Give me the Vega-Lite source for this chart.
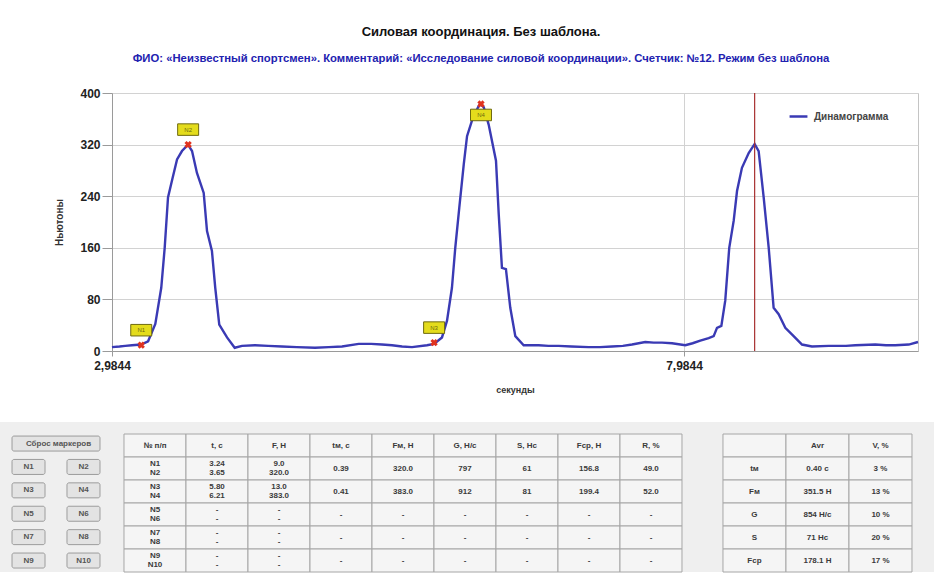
{
  "$schema": "https://vega.github.io/schema/vega-lite/v6.json",
  "background": "white",
  "padding": {"left": 0, "top": 25, "right": 0, "bottom": 0},
  "spacing": 27,
  "config": {
    "font": "Liberation Sans",
    "view": {"stroke": null}
  },
  "datasets": {
    "curve": [
      {"t": 2.984, "F": 6}, {"t": 3.05, "F": 7}, {"t": 3.10, "F": 8}, {"t": 3.159, "F": 9},
      {"t": 3.24, "F": 10}, {"t": 3.30, "F": 15}, {"t": 3.363, "F": 42}, {"t": 3.415, "F": 98},
      {"t": 3.445, "F": 160}, {"t": 3.474, "F": 238}, {"t": 3.515, "F": 269}, {"t": 3.553, "F": 297},
      {"t": 3.596, "F": 310}, {"t": 3.649, "F": 320}, {"t": 3.684, "F": 310}, {"t": 3.727, "F": 276},
      {"t": 3.786, "F": 245}, {"t": 3.815, "F": 186}, {"t": 3.858, "F": 155}, {"t": 3.887, "F": 98},
      {"t": 3.922, "F": 41}, {"t": 3.990, "F": 21}, {"t": 4.057, "F": 5}, {"t": 4.121, "F": 8},
      {"t": 4.234, "F": 9}, {"t": 4.35, "F": 8}, {"t": 4.470, "F": 7}, {"t": 4.60, "F": 6},
      {"t": 4.759, "F": 5}, {"t": 4.88, "F": 6}, {"t": 4.995, "F": 7}, {"t": 5.141, "F": 11},
      {"t": 5.25, "F": 11}, {"t": 5.344, "F": 10}, {"t": 5.432, "F": 9}, {"t": 5.52, "F": 7},
      {"t": 5.607, "F": 6}, {"t": 5.738, "F": 9}, {"t": 5.80, "F": 11}, {"t": 5.869, "F": 21},
      {"t": 5.913, "F": 47}, {"t": 5.956, "F": 98}, {"t": 5.985, "F": 160}, {"t": 6.020, "F": 222},
      {"t": 6.059, "F": 289}, {"t": 6.088, "F": 333}, {"t": 6.131, "F": 357}, {"t": 6.184, "F": 378},
      {"t": 6.201, "F": 383}, {"t": 6.234, "F": 378}, {"t": 6.277, "F": 351}, {"t": 6.341, "F": 295},
      {"t": 6.365, "F": 212}, {"t": 6.393, "F": 129}, {"t": 6.428, "F": 127}, {"t": 6.466, "F": 67},
      {"t": 6.510, "F": 23}, {"t": 6.583, "F": 9}, {"t": 6.714, "F": 9}, {"t": 6.80, "F": 8},
      {"t": 6.889, "F": 8}, {"t": 7.00, "F": 7}, {"t": 7.151, "F": 6}, {"t": 7.25, "F": 6},
      {"t": 7.355, "F": 7}, {"t": 7.45, "F": 8}, {"t": 7.530, "F": 10}, {"t": 7.646, "F": 14},
      {"t": 7.72, "F": 13}, {"t": 7.792, "F": 13}, {"t": 7.880, "F": 12}, {"t": 7.996, "F": 9},
      {"t": 8.06, "F": 12}, {"t": 8.127, "F": 16}, {"t": 8.200, "F": 20}, {"t": 8.244, "F": 23},
      {"t": 8.273, "F": 36}, {"t": 8.311, "F": 39}, {"t": 8.345, "F": 78}, {"t": 8.380, "F": 160},
      {"t": 8.419, "F": 202}, {"t": 8.448, "F": 248}, {"t": 8.491, "F": 284}, {"t": 8.550, "F": 307},
      {"t": 8.602, "F": 321}, {"t": 8.637, "F": 310}, {"t": 8.681, "F": 238}, {"t": 8.725, "F": 160},
      {"t": 8.768, "F": 67}, {"t": 8.812, "F": 57}, {"t": 8.870, "F": 36}, {"t": 8.943, "F": 23},
      {"t": 9.016, "F": 10}, {"t": 9.103, "F": 7}, {"t": 9.249, "F": 8}, {"t": 9.40, "F": 8},
      {"t": 9.482, "F": 9}, {"t": 9.657, "F": 10}, {"t": 9.75, "F": 9}, {"t": 9.831, "F": 9},
      {"t": 9.949, "F": 10}, {"t": 10.03, "F": 14}
    ],
    "markers": [
      {"label": "N1", "t": 3.24, "F": 9},
      {"label": "N2", "t": 3.65, "F": 320},
      {"label": "N3", "t": 5.80, "F": 13},
      {"label": "N4", "t": 6.21, "F": 383}
    ],
    "cursor": [{"t": 8.602}],
    "buttons": [
      {"row": "r1", "col": "a", "label": "N1"}, {"row": "r1", "col": "b", "label": "N2"},
      {"row": "r2", "col": "a", "label": "N3"}, {"row": "r2", "col": "b", "label": "N4"},
      {"row": "r3", "col": "a", "label": "N5"}, {"row": "r3", "col": "b", "label": "N6"},
      {"row": "r4", "col": "a", "label": "N7"}, {"row": "r4", "col": "b", "label": "N8"},
      {"row": "r5", "col": "a", "label": "N9"}, {"row": "r5", "col": "b", "label": "N10"}
    ],
    "mainTable": [
      {"row": "h", "№ п/п": "№ п/п", "t, с": "t, с", "F, Н": "F, Н", "tм, с": "tм, с", "Fм, Н": "Fм, Н", "G, Н/с": "G, Н/с", "S, Нс": "S, Нс", "Fср, Н": "Fср, Н", "R, %": "R, %"},
      {"row": "1", "№ п/п": "N1\nN2", "t, с": "3.24\n3.65", "F, Н": "9.0\n320.0", "tм, с": "0.39", "Fм, Н": "320.0", "G, Н/с": "797", "S, Нс": "61", "Fср, Н": "156.8", "R, %": "49.0"},
      {"row": "2", "№ п/п": "N3\nN4", "t, с": "5.80\n6.21", "F, Н": "13.0\n383.0", "tм, с": "0.41", "Fм, Н": "383.0", "G, Н/с": "912", "S, Нс": "81", "Fср, Н": "199.4", "R, %": "52.0"},
      {"row": "3", "№ п/п": "N5\nN6", "t, с": "-\n-", "F, Н": "-\n-", "tм, с": "-", "Fм, Н": "-", "G, Н/с": "-", "S, Нс": "-", "Fср, Н": "-", "R, %": "-"},
      {"row": "4", "№ п/п": "N7\nN8", "t, с": "-\n-", "F, Н": "-\n-", "tм, с": "-", "Fм, Н": "-", "G, Н/с": "-", "S, Нс": "-", "Fср, Н": "-", "R, %": "-"},
      {"row": "5", "№ п/п": "N9\nN10", "t, с": "-\n-", "F, Н": "-\n-", "tм, с": "-", "Fм, Н": "-", "G, Н/с": "-", "S, Нс": "-", "Fср, Н": "-", "R, %": "-"}
    ],
    "statsTable": [
      {"row": "h", "k": "", "Avr": "Avr", "V, %": "V, %"},
      {"row": "1", "k": "tм", "Avr": "0.40 с", "V, %": "3 %"},
      {"row": "2", "k": "Fм", "Avr": "351.5 Н", "V, %": "13 %"},
      {"row": "3", "k": "G", "Avr": "854 Н/с", "V, %": "10 %"},
      {"row": "4", "k": "S", "Avr": "71 Нс", "V, %": "20 %"},
      {"row": "5", "k": "Fср", "Avr": "178.1 Н", "V, %": "17 %"}
    ]
  },
  "vconcat": [
    {
      "spacing": 0,
      "hconcat": [
        {
          "width": 53,
          "height": 10,
          "view": {"stroke": null},
          "data": {"values": [{"k": ""}]},
          "mark": {"type": "text"},
          "encoding": {"text": {"field": "k"}}
        },
        {
          "width": 806,
          "height": 258,
          "view": {"stroke": "#c4c4c4"},
          "title": {
            "text": "Силовая координация. Без шаблона.",
            "subtitle": "ФИО: «Неизвестный спортсмен». Комментарий: «Исследование силовой координации». Счетчик: №12. Режим без шаблона",
            "anchor": "middle",
            "dx": -34,
            "fontSize": 13,
            "fontWeight": "bold",
            "color": "#111111",
            "subtitleFontSize": 11.3,
            "subtitleFontWeight": "bold",
            "subtitleColor": "#2222b0",
            "subtitlePadding": 14,
            "offset": 23
          },
          "layer": [
            {
              "data": {"name": "curve"},
              "mark": {"type": "line", "strokeWidth": 2.4, "interpolate": "linear"},
              "encoding": {
                "x": {
                  "field": "t", "type": "quantitative",
                  "scale": {"domain": [2.9844, 10.03], "nice": false, "zero": false},
                  "axis": {
                    "values": [2.9844, 7.9844],
                    "labelExpr": "replace(format(datum.value, '.4f'), '.', ',')",
                    "labelFlush": false,
                    "labelFontSize": 12,
                    "labelFontWeight": "bold",
                    "labelColor": "#222222",
                    "labelPadding": 4,
                    "tickSize": 5,
                    "tickColor": "#9a9a9a",
                    "domainColor": "#9a9a9a",
                    "grid": true,
                    "gridColor": "#d2d2d2",
                    "title": "секунды",
                    "titleFontSize": 9,
                    "titleFontWeight": "bold",
                    "titleColor": "#333333",
                    "titleY": 38,
                    "titleBaseline": "middle"
                  }
                },
                "y": {
                  "field": "F", "type": "quantitative",
                  "scale": {"domain": [0, 400], "nice": false},
                  "axis": {
                    "values": [0, 80, 160, 240, 320, 400],
                    "labelFontSize": 12,
                    "labelFontWeight": "bold",
                    "labelColor": "#222222",
                    "labelPadding": 2,
                    "tickSize": 10,
                    "tickColor": "#9a9a9a",
                    "domainColor": "#9a9a9a",
                    "grid": true,
                    "gridColor": "#d2d2d2",
                    "title": "Ньютоны",
                    "titleFontSize": 10,
                    "titleFontWeight": "bold",
                    "titleColor": "#333333",
                    "titleAngle": -90,
                    "titleX": -53,
                    "titleY": 129,
                    "titleAlign": "center",
                    "titleBaseline": "middle"
                  }
                },
                "color": {
                  "datum": "Динамограмма",
                  "type": "nominal",
                  "scale": {"range": ["#3a3ab4"]},
                  "legend": {
                    "orient": "none",
                    "legendX": 788,
                    "legendY": 13,
                    "title": null,
                    "labelFontSize": 10,
                    "labelFontWeight": "bold",
                    "labelColor": "#444444",
                    "symbolType": "stroke",
                    "symbolStrokeWidth": 2.5,
                    "symbolSize": 320,
                    "labelOffset": 5
                  }
                }
              }
            },
            {
              "data": {"name": "cursor"},
              "mark": {"type": "rule", "color": "#a83030", "strokeWidth": 1.2},
              "encoding": {"x": {"field": "t", "type": "quantitative"}}
            },
            {
              "data": {"name": "markers"},
              "mark": {"type": "point", "shape": "cross", "angle": 45, "filled": true, "color": "#e0331f", "size": 55, "opacity": 1},
              "encoding": {
                "x": {"field": "t", "type": "quantitative"},
                "y": {"field": "F", "type": "quantitative"}
              }
            },
            {
              "data": {"name": "markers"},
              "transform": [{"filter": "datum.F < 350"}],
              "mark": {"type": "point", "shape": "M-1,-0.55L1,-0.55L1,0.55L-1,0.55Z", "filled": true, "fill": "#e4dc1c", "stroke": "#6f6a10", "strokeWidth": 1, "size": 440, "opacity": 1, "yOffset": -15},
              "encoding": {
                "x": {"field": "t", "type": "quantitative"},
                "y": {"field": "F", "type": "quantitative"}
              }
            },
            {
              "data": {"name": "markers"},
              "transform": [{"filter": "datum.F < 350"}],
              "mark": {"type": "text", "fontSize": 6, "color": "#6f6a10", "yOffset": -15},
              "encoding": {
                "x": {"field": "t", "type": "quantitative"},
                "y": {"field": "F", "type": "quantitative"},
                "text": {"field": "label"}
              }
            },
            {
              "data": {"name": "markers"},
              "transform": [{"filter": "datum.F >= 350"}],
              "mark": {"type": "point", "shape": "M-1,-0.55L1,-0.55L1,0.55L-1,0.55Z", "filled": true, "fill": "#e4dc1c", "stroke": "#6f6a10", "strokeWidth": 1, "size": 440, "opacity": 1, "yOffset": 11},
              "encoding": {
                "x": {"field": "t", "type": "quantitative"},
                "y": {"field": "F", "type": "quantitative"}
              }
            },
            {
              "data": {"name": "markers"},
              "transform": [{"filter": "datum.F >= 350"}],
              "mark": {"type": "text", "fontSize": 6, "color": "#6f6a10", "yOffset": 11},
              "encoding": {
                "x": {"field": "t", "type": "quantitative"},
                "y": {"field": "F", "type": "quantitative"},
                "text": {"field": "label"}
              }
            }
          ]
        }
      ]
    },
    {
      "spacing": 0,
      "hconcat": [
        {
          "width": 117,
          "height": 150,
          "view": {"fill": "#efefef", "stroke": null},
          "layer": [
            {
              "data": {"name": "buttons"},
              "mark": {"type": "rect", "fill": "#e3e3e3", "stroke": "#9c9c9c", "strokeWidth": 1, "cornerRadius": 2},
              "encoding": {
                "x": {"field": "col", "type": "nominal", "scale": {"type": "band", "domain": ["a", "b"], "paddingInner": 0.4, "paddingOuter": 0.264, "align": 0.414}, "axis": null},
                "y": {"field": "row", "type": "nominal", "scale": {"type": "band", "domain": ["r0", "r1", "r2", "r3", "r4", "r5"], "paddingInner": 0.359, "paddingOuter": 0.385, "align": 0.78}, "axis": null}
              }
            },
            {
              "data": {"name": "buttons"},
              "mark": {"type": "text", "fontSize": 8, "fontWeight": "bold", "color": "#555555"},
              "encoding": {
                "x": {"field": "col", "type": "nominal"},
                "y": {"field": "row", "type": "nominal"},
                "text": {"field": "label"}
              }
            },
            {
              "data": {"values": [{"row": "r0", "label": "Сброс маркеров"}]},
              "mark": {"type": "rect", "fill": "#e3e3e3", "stroke": "#9c9c9c", "strokeWidth": 1, "cornerRadius": 2},
              "encoding": {
                "x": {"datum": "a", "type": "nominal", "bandPosition": 0},
                "x2": {"datum": "b", "bandPosition": 1},
                "y": {"field": "row", "type": "nominal"}
              }
            },
            {
              "data": {"values": [{"row": "r0", "label": "Сброс маркеров"}]},
              "mark": {"type": "text", "fontSize": 8, "fontWeight": "bold", "color": "#555555"},
              "encoding": {
                "y": {"field": "row", "type": "nominal"},
                "text": {"field": "label"}
              }
            }
          ]
        },
        {
          "width": 585,
          "height": 150,
          "view": {"fill": "#efefef", "stroke": null},
          "data": {"name": "mainTable"},
          "transform": [{"fold": ["№ п/п", "t, с", "F, Н", "tм, с", "Fм, Н", "G, Н/с", "S, Нс", "Fср, Н", "R, %"], "as": ["col", "text"]}],
          "encoding": {
            "x": {"field": "col", "type": "nominal", "scale": {"type": "band", "domain": ["№ п/п", "t, с", "F, Н", "tм, с", "Fм, Н", "G, Н/с", "S, Нс", "Fср, Н", "R, %"], "paddingInner": 0, "paddingOuter": 0.2177, "align": 0.259}, "axis": null},
            "y": {"field": "row", "type": "nominal", "scale": {"type": "band", "domain": ["h", "1", "2", "3", "4", "5"], "paddingInner": 0, "paddingOuter": 0.261, "align": 1}, "axis": null}
          },
          "layer": [
            {"mark": {"type": "rect", "fill": "#f5f5f5", "stroke": "#a6a6a6", "strokeWidth": 1}},
            {
              "transform": [{"filter": "indexof(datum.text, '\\n') < 0"}],
              "mark": {"type": "text", "fontSize": 8, "fontWeight": "bold", "color": "#3a3a3a"},
              "encoding": {"text": {"field": "text"}}
            },
            {
              "transform": [{"filter": "indexof(datum.text, '\\n') >= 0"}],
              "mark": {"type": "text", "fontSize": 8, "fontWeight": "bold", "color": "#3a3a3a", "lineBreak": "\n", "lineHeight": 9, "dy": -4.5},
              "encoding": {"text": {"field": "text"}}
            }
          ]
        },
        {
          "width": 232,
          "height": 150,
          "view": {"fill": "#efefef", "stroke": null},
          "data": {"name": "statsTable"},
          "transform": [{"fold": ["k", "Avr", "V, %"], "as": ["col", "text"]}],
          "encoding": {
            "x": {"field": "col", "type": "nominal", "scale": {"type": "band", "domain": ["k", "Avr", "V, %"], "paddingInner": 0, "paddingOuter": 0.341, "align": 0.488}, "axis": null},
            "y": {"field": "row", "type": "nominal", "scale": {"type": "band", "domain": ["h", "1", "2", "3", "4", "5"], "paddingInner": 0, "paddingOuter": 0.261, "align": 1}, "axis": null}
          },
          "layer": [
            {"mark": {"type": "rect", "fill": "#f5f5f5", "stroke": "#a6a6a6", "strokeWidth": 1}},
            {"mark": {"type": "text", "fontSize": 8, "fontWeight": "bold", "color": "#3a3a3a"}, "encoding": {"text": {"field": "text"}}}
          ]
        }
      ]
    }
  ]
}
